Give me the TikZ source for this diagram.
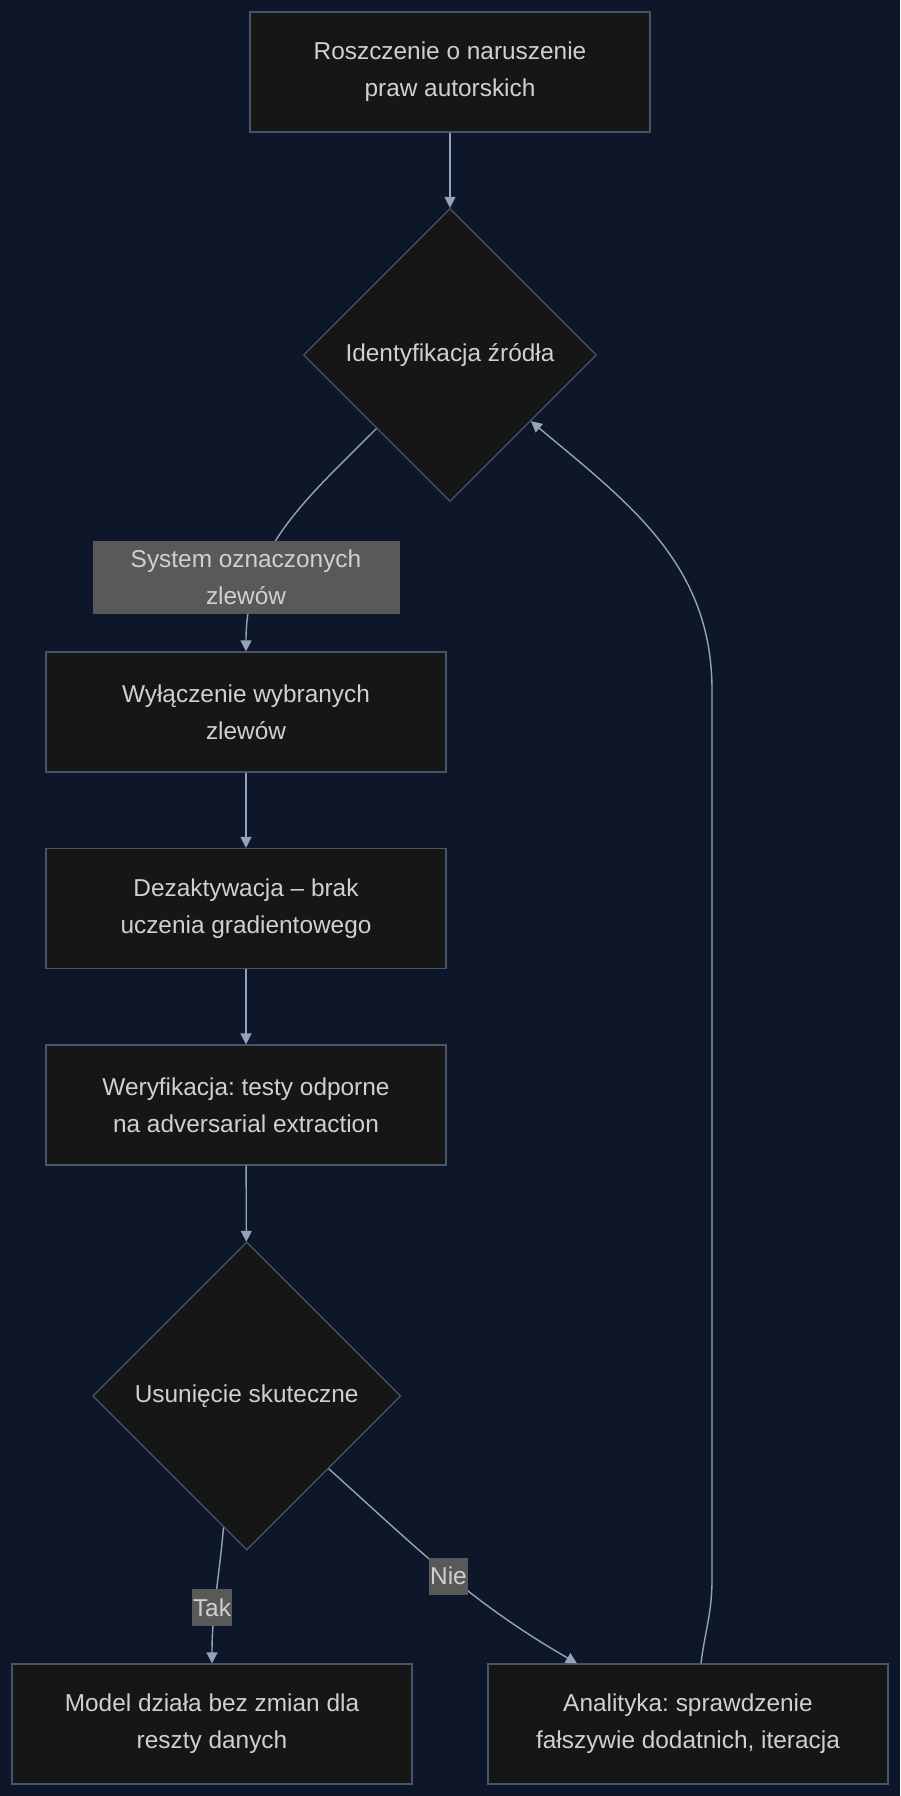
\documentclass[tikz,border=0pt]{standalone}
\usepackage{fontspec}
\setmainfont{Liberation Sans}
\frenchspacing
\usetikzlibrary{shapes.geometric,arrows.meta,calc}

\definecolor{bgnavy}{RGB}{14,23,41}
\definecolor{boxfill}{RGB}{22,22,22}
\definecolor{boxline}{RGB}{71,85,105}
\definecolor{flowline}{RGB}{148,163,184}
\definecolor{lblfill}{RGB}{89,89,89}
\definecolor{txtgrey}{RGB}{208,208,208}

\newcommand*{\pw}{900}
\newcommand*{\ph}{1796}

\begin{document}
\begin{tikzpicture}
[
	x=1pt,y=1pt,
	every node/.style={font=\fontsize{24.4}{37}\selectfont,text=txtgrey},
	procbox/.style={rectangle,draw=boxline,fill=boxfill,line width=1.2pt,minimum width=400pt,minimum height=120pt,align=center},
	decision/.style={diamond,aspect=1,draw=boxline,fill=boxfill,line width=1.2pt,inner sep=0pt,align=center},
	edgelbl/.style={rectangle,fill=lblfill,inner xsep=1.5pt,inner ysep=0pt,minimum height=37pt,align=center},
	flow/.style={draw=flowline,line width=1.4pt,-{Triangle[length=11pt,width=11pt]}}
]

	% background
	\fill[bgnavy] (0,0) rectangle (\pw,-\ph);
	\useasboundingbox (0,0) rectangle (\pw,-\ph);

	% main column
	\node[procbox] (claim) at (450,-72) {Roszczenie o naruszenie\\praw autorskich};
	\node[decision,minimum size=293pt] (srcid) at (450,-355) {Identyfikacja źródła};
	\node[procbox] (excl) at (246,-712) {Wyłączenie wybranych\\zlewów};
	\node[procbox] (deact) at (246,-908.5) {Dezaktywacja – brak\\uczenia gradientowego};
	\node[procbox] (verif) at (246,-1105) {Weryfikacja: testy odporne\\na adversarial extraction};
	\node[decision,minimum size=308pt] (check) at (246.7,-1396) {Usunięcie skuteczne};
	\node[procbox] (keep) at (212,-1724) {Model działa bez zmian dla\\reszty danych};
	\node[procbox] (anal) at (688,-1724) {Analityka: sprawdzenie\\fałszywie dodatnich, iteracja};

	% bends of the loop back
	\coordinate (loopbot) at (712,-1580);
	\coordinate (looptop) at (712,-690);

	% connectors
	\draw[flow] (claim) -- (srcid);
	\draw[flow] (srcid.south west) to[out=225,in=90] (excl.north);
	\draw[flow] (excl) -- (deact);
	\draw[flow] (deact) -- (verif);
	\draw[flow] (verif) -- (check);
	\draw[flow] ($(check.south)!0.15!(check.west)$) to[out=-95,in=90] (keep.north);
	\draw[flow] ($(check.south)!0.53!(check.east)$) to[out=-42,in=150] ($(anal.north)+(-111,0)$);
	\draw[flow] ($(anal.north)+(13,0)$) to[out=83,in=-90] (loopbot) -- (looptop)
		to[out=90,in=-40] ($(srcid.south)!0.55!(srcid.east)$);

	% edge labels
	\node[edgelbl,minimum width=307pt,minimum height=73pt,inner sep=0pt] (lblsys) at (246,-577) {System oznaczonych\\zlewów};
	\node[edgelbl] (lbltak) at (212,-1607.5) {Tak};
	\node[edgelbl] (lblnie) at (448.5,-1576) {Nie};

\end{tikzpicture}
\end{document}
